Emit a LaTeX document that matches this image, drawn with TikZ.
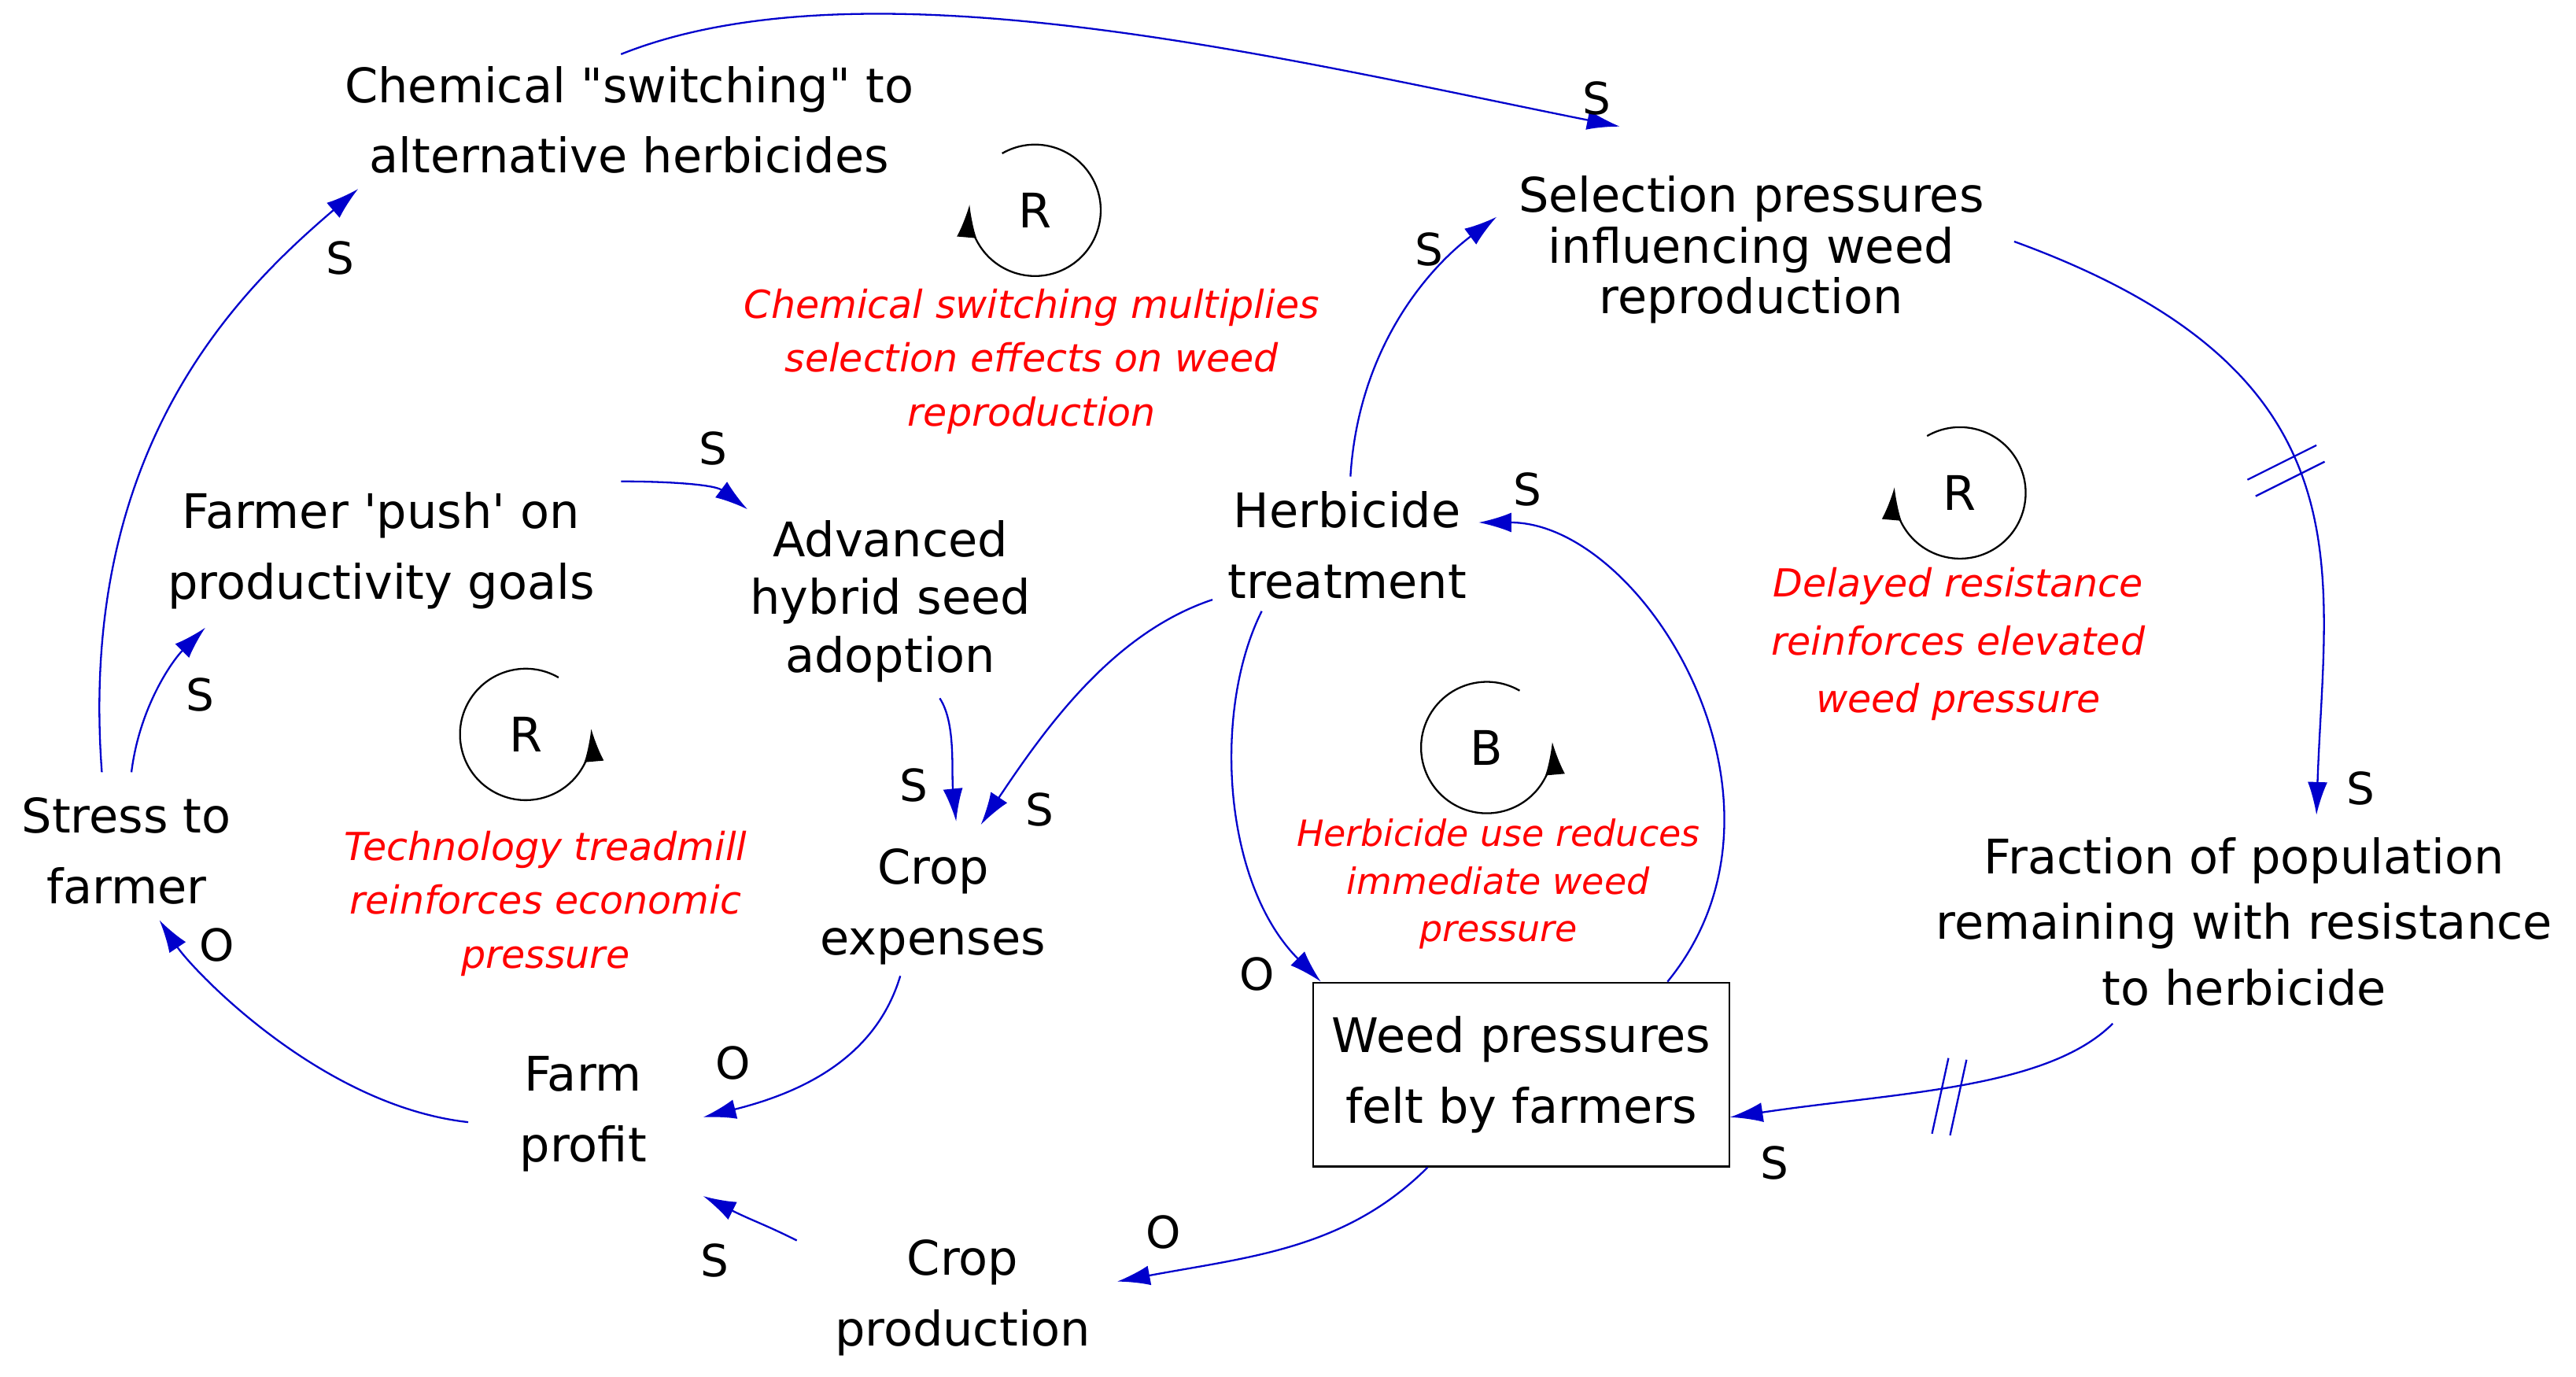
\documentclass[tikz,border=0pt]{standalone}
\usepackage{fontspec}
\setmainfont{DejaVu Sans}[Ligatures=TeXOff]
\usetikzlibrary{arrows.meta,calc}
\begin{document}
\begin{tikzpicture}[x=1pt,y=-1pt,
 lbl/.style={align=center,font=\fontsize{29}{36}\selectfont},
 red/.style={align=center,text=red,font=\fontsize{23.5}{33}\selectfont\itshape},
 sg/.style={font=\fontsize{27}{30}\selectfont},
 ar/.style={draw=blue!80!black,line width=1.1pt,-{Latex[length=20pt,width=12pt]}},
 lp/.style={line width=1.1pt,-{Latex[length=20pt,width=12pt]}}]
\useasboundingbox (0,0) rectangle (1568,838);
\node[lbl,font=\fontsize{29}{43}\selectfont] (chem) at (383,73) {Chemical "switching" to\\alternative herbicides};
\node[lbl,font=\fontsize{29}{31}\selectfont] (sel) at (1066,152) {Selection pressures\\influencing weed\\reproduction};
\node[lbl,font=\fontsize{29}{43}\selectfont] (push) at (232,335) {Farmer 'push' on\\productivity goals};
\node[lbl,font=\fontsize{29}{35}\selectfont] (adv) at (542,366) {Advanced\\hybrid seed\\adoption};
\node[lbl,font=\fontsize{29}{43}\selectfont] (herb) at (820,332) {Herbicide\\treatment};
\node[lbl,font=\fontsize{29}{43}\selectfont] (stress) at (77,518) {Stress to\\farmer};
\node[lbl,font=\fontsize{29}{43}\selectfont] (exp) at (568,552) {Crop\\expenses};
\node[lbl,font=\fontsize{29}{40}\selectfont] (frac) at (1366,561) {Fraction of population\\remaining with resistance\\to herbicide};
\node[lbl,draw,line width=1pt,minimum width=253pt,minimum height=112pt,font=\fontsize{29}{43}\selectfont] (weed) at (926,654) {Weed pressures\\felt by farmers};
\node[lbl,font=\fontsize{29}{43}\selectfont] (profit) at (355,678) {Farm\\profit};
\node[lbl,font=\fontsize{29}{43}\selectfont] (prod) at (586,790) {Crop\\production};

\node[red] (t1) at (628,220) {Chemical switching multiplies\\selection effects on weed\\reproduction};
\node[red,font=\fontsize{23.5}{35}\selectfont\itshape] (t2) at (1192,392) {Delayed resistance\\reinforces elevated\\weed pressure};
\node[red] (t3) at (332,550) {Technology treadmill\\reinforces economic\\pressure};
\node[red,font=\fontsize{22}{29}\selectfont\itshape] (t4) at (912,538) {Herbicide use reduces\\immediate weed\\pressure};

% loop markers
\node[lbl] (r1) at (630,128) {R};
\draw[lp] ($(r1)+(-120:40)$) arc[start angle=-120,end angle=185,radius=40];
\node[lbl] (r2) at (1193,300) {R};
\draw[lp] ($(r2)+(-120:40)$) arc[start angle=-120,end angle=185,radius=40];
\node[lbl] (r3) at (320,447) {R};
\draw[lp] ($(r3)+(-60:40)$) arc[start angle=-60,end angle=-365,radius=40];
\node[lbl] (b1) at (905,455) {B};
\draw[lp] ($(b1)+(-60:40)$) arc[start angle=-60,end angle=-365,radius=40];

% connectors
\draw[ar] ($(stress)+(-15,-48)$) .. controls +(-15,-200) and +(-70,60) .. ($(chem)+(-165,42)$);
\draw[ar] ($(chem)+(-5,-40)$) .. controls +(150,-60) and +(-200,-40) .. ($(sel)+(-80,-75)$);
\draw[ar] ($(herb)+(2,-42)$) .. controls +(5,-80) and +(-40,30) .. ($(sel)+(-155,-20)$);
\draw[ar] ($(sel)+(160,-5)$) .. controls +(220,80) and +(5,-150) .. ($(frac)+(44,-65)$);
\draw[ar] ($(frac)+(-80,62)$) .. controls +(-40,40) and +(100,-15) .. (weed.east |- 0,680);
\draw[ar] ($(weed.north east)+(-38,0)$) .. controls +(90,-110) and +(100,0) .. ($(herb)+(80,-14)$);
\draw[ar] ($(herb)+(-52,40)$) .. controls +(-30,60) and +(-60,-60) .. ($(weed.north west)+(5,0)$);
\draw[ar] ($(herb)+(-82,33)$) .. controls +(-60,20) and +(40,-60) .. ($(exp)+(29,-50)$);
\draw[ar] ($(adv)+(30,59)$) .. controls +(10,15) and +(-3,-30) .. ($(exp)+(14,-52)$);
\draw[ar] ($(push)+(146,-42)$) .. controls +(30,0) and +(-20,-15) .. ($(adv)+(-87,-56)$);
\draw[ar] ($(stress)+(3,-48)$) .. controls +(5,-40) and +(-20,20) .. ($(push)+(-107,47)$);
\draw[ar] ($(exp)+(-20,42)$) .. controls +(-15,50) and +(60,-15) .. ($(profit)+(73,2)$);
\draw[ar] ($(profit)+(-70,5)$) .. controls +(-90,-10) and +(20,30) .. ($(stress)+(20,42)$);
\draw[ar] ($(prod)+(-101,-35)$) .. controls +(-20,-10) and +(30,15) .. ($(profit)+(73,50)$);
\draw[ar] ($(weed.south west)+(70,0)$) .. controls +(-50,50) and +(80,-15) .. ($(prod)+(94,-10)$);

% delay marks
\draw[blue!80!black,line width=1.1pt] (1368,292)--(1410,271) (1373,302)--(1415,281);
\draw[blue!80!black,line width=1.1pt] (1176,690)--(1186,644) (1187,691)--(1197,645);

% polarity labels
\node[sg] (s1) at (207,157) {S};
\node[sg] (s2) at (972,60) {S};
\node[sg] (s3) at (870,152) {S};
\node[sg] (s4) at (1437,480) {S};
\node[sg] (s5) at (1080,708) {S};
\node[sg] (s6) at (930,298) {S};
\node[sg] (o1) at (765,593) {O};
\node[sg] (s7) at (633,493) {S};
\node[sg] (s8) at (556,478) {S};
\node[sg] (s9) at (434,273) {S};
\node[sg] (s10) at (122,423) {S};
\node[sg] (o2) at (446,647) {O};
\node[sg] (o3) at (132,575) {O};
\node[sg] (s11) at (435,767) {S};
\node[sg] (o4) at (708,750) {O};
\end{tikzpicture}
\end{document}
